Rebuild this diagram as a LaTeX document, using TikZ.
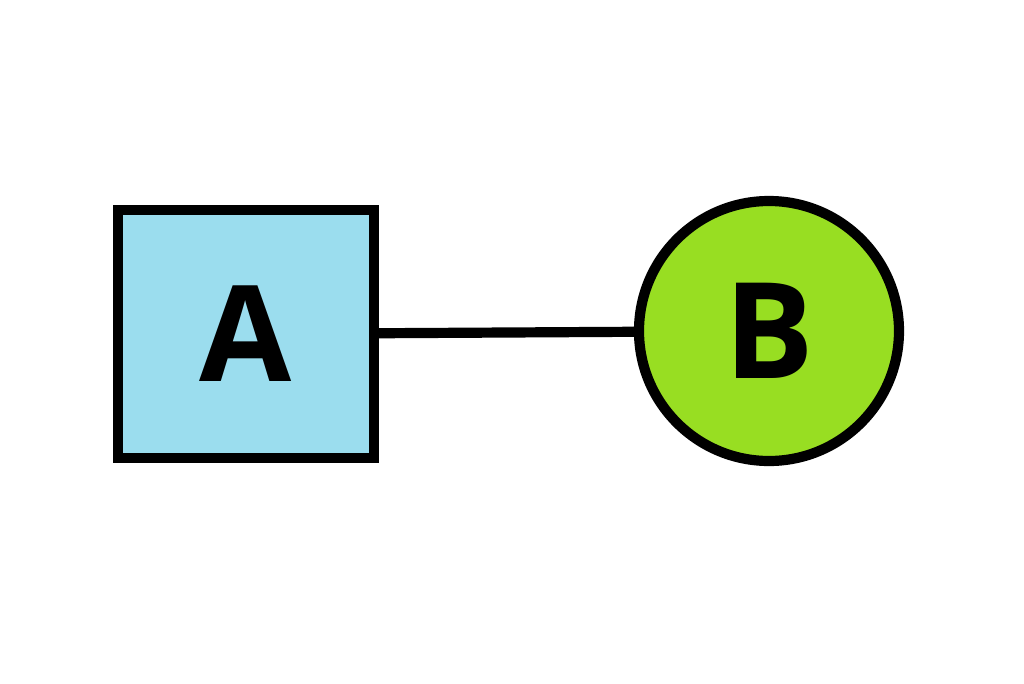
\documentclass[tikz,border=0pt]{standalone}
\usepackage{fontspec}
\setmainfont{Open Sans}
\usepackage{xcolor}
\usetikzlibrary{positioning}
\definecolor{boxblue}{RGB}{155,221,238}
\definecolor{ballgreen}{RGB}{152,222,34}

\begin{document}
\begin{tikzpicture}[
    vertex/.style={draw, line width=2.9pt, font=\fontsize{38}{38}\selectfont\bfseries, inner sep=0pt},
    link/.style={line width=2.9pt}
]
\useasboundingbox (0,0) rectangle (10.24,6.83);
\node[vertex, rectangle, fill=boxblue, minimum width=2.56cm, minimum height=2.48cm] (a) at (2.46,3.49) {A};
\node[vertex, circle, fill=ballgreen, minimum size=2.6cm] (b) at (7.69,3.52) {B};
\draw[link] (a) -- (b);
\end{tikzpicture}
\end{document}
